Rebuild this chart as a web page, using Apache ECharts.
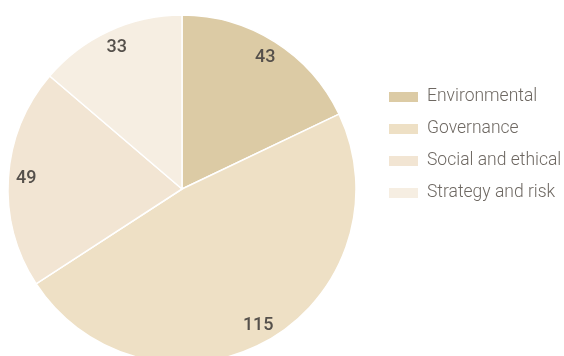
<!DOCTYPE html>
<html><head><meta charset="utf-8">
<script src="https://cdn.jsdelivr.net/npm/echarts@6/dist/echarts.min.js"></script>
<style>html,body{margin:0;padding:0;background:#fff}#c{width:564px;height:356px}</style>
</head><body><div id="c"></div>
<script>
const categories = ["Environmental", "Governance", "Social and ethical", "Strategy and risk"];
const values = [43, 115, 49, 33];
const colors = ["#dccba5", "#eee0c5", "#f2e5d3", "#f6eee2"];

const chart = echarts.init(document.getElementById('c'), null, {renderer: 'canvas'});
const data = categories.map((n, i) => ({name: n, value: values[i], itemStyle: {color: colors[i]}}));
chart.setOption({
  animation: false,
  legend: {
    orient: 'vertical', left: 382, top: 83,
    itemWidth: 31, itemHeight: 12, itemGap: 14,
    icon: 'rect',
    textStyle: {color: '#6e6862', fontSize: 17.5, lineHeight: 18, fontFamily: 'Roboto', fontWeight: 300, padding: [0,0,0,3]},
    data: categories
  },
  series: [{
    type: 'pie', center: [182, 189], radius: [0, 174], startAngle: 90, clockwise: true,
    silent: true, label: {show: false}, labelLine: {show: false},
    itemStyle: {borderColor: '#fff', borderWidth: 1.5},
    data: data
  }, {
    type: 'pie', center: [182, 189], radius: [132, 174], startAngle: 90, clockwise: true,
    silent: true, legendHoverLink: false,
    itemStyle: {color: 'rgba(0,0,0,0)', borderWidth: 0},
    label: {show: true, position: 'inside', formatter: '{c}', color: '#55504b', fontSize: 18, fontFamily: 'Roboto', fontWeight: 500},
    labelLine: {show: false},
    data: categories.map((n, i) => ({name: n + ' ', value: values[i]}))
  }]
});
</script></body></html>
